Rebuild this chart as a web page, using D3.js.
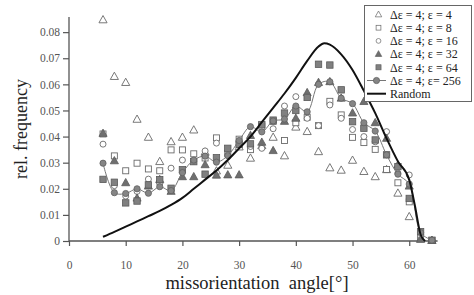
<!DOCTYPE html>
<html><head><meta charset="utf-8">
<script src="https://cdn.jsdelivr.net/npm/d3@7"></script>
<style>html,body{margin:0;padding:0;background:#fff}svg{display:block}</style>
</head><body>
<script>
const angles = [6,8,10,12,14,16,18,20,22,24,26,28,30,32,34,36,38,40,42,44,46,48,50,52,54,56,58,60,62,64];
const eps4   = [0.0847,0.063,0.0607,0.0466,0.0397,0.0304,0.038,0.0397,0.0425,0.034,0.0268,0.029,0.036,0.0317,0.0365,0.0397,0.0326,0.0436,0.0419,0.0342,0.028,0.0271,0.0309,0.0266,0.0246,0.0273,0.0183,0.0093,0.0008,0.0002];
const eps8   = [0.041,0.0326,0.0269,0.0298,0.0276,0.0269,0.0349,0.0349,0.0334,0.0318,0.0395,0.0336,0.039,0.035,0.044,0.0458,0.0385,0.0453,0.0474,0.0442,0.0535,0.0483,0.0397,0.0377,0.0351,0.0274,0.0223,0.015,0.0012,0.0002];
const eps16  = [0.0371,0.0212,0.0172,0.019,0.0237,0.022,0.0279,0.031,0.0305,0.0345,0.0375,0.033,0.0368,0.0362,0.0355,0.043,0.0517,0.0553,0.047,0.0442,0.0521,0.047,0.0427,0.040,0.038,0.0419,0.026,0.0253,0.002,0.0002];
const eps32  = [0.0412,0.0307,0.0223,0.0164,0.021,0.0235,0.019,0.0246,0.0246,0.0292,0.0252,0.0253,0.0253,0.0404,0.0378,0.0346,0.0458,0.047,0.0568,0.0607,0.061,0.0547,0.049,0.0534,0.0453,0.0393,0.0291,0.021,0.0006,0.0002];
const eps64  = [0.0236,0.0225,0.0146,0.0153,0.0215,0.0235,0.0202,0.0273,0.0304,0.0256,0.0319,0.0355,0.037,0.0372,0.0446,0.0463,0.049,0.050,0.055,0.0677,0.0674,0.0579,0.0457,0.0432,0.0387,0.033,0.0285,0.0163,0.0036,0.0003];
const eps256 = [0.0298,0.0185,0.0182,0.020,0.0183,0.0208,0.0193,0.0262,0.031,0.0325,0.0302,0.0327,0.0385,0.0438,0.0418,0.046,0.0467,0.0517,0.0495,0.060,0.061,0.0547,0.0526,0.0453,0.0421,0.033,0.0256,0.0218,0.0032,0.0003];
const randomAngles = [6,8,10,12,14,16,18,20,22,24,26,28,30,32,34,36,38,40,42,44,45,46,48,50,52,54,56,58,60,61,62,62.8];
const randomValues = [0.0016,0.0035,0.0055,0.0075,0.0095,0.0115,0.0138,0.0165,0.020,0.0235,0.027,0.031,0.0355,0.040,0.0455,0.051,0.0565,0.0625,0.069,0.0745,0.0757,0.0752,0.0715,0.0655,0.0575,0.049,0.0393,0.0305,0.0234,0.0135,0.0025,0];
const xTicks = [0,10,20,30,40,50,60];
const yTicks = [0,0.01,0.02,0.03,0.04,0.05,0.06,0.07,0.08];
const legendLabels = ["\u0394\u03b5 = 4; \u03b5 = 4","\u0394\u03b5 = 4; \u03b5 = 8","\u0394\u03b5 = 4; \u03b5 = 16","\u0394\u03b5 = 4; \u03b5 = 32","\u0394\u03b5 = 4; \u03b5 = 64","\u0394\u03b5 = 4; \u03b5= 256","Random"];

const W = 474, H = 295;
const FONT = "'Liberation Serif','Times New Roman',serif";
const svg = d3.select("body").append("svg").attr("width", W).attr("height", H);
const x = d3.scaleLinear().domain([0, 65]).range([69, 437.6]);
const y = d3.scaleLinear().domain([0, 0.0858]).range([241, 17]);

const axisCol = "#555";
const yAxis = svg.append("g").attr("transform", `translate(${x(0)},0)`)
  .call(d3.axisLeft(y).tickValues(yTicks).tickSize(6).tickPadding(3)
    .tickFormat(d => d === 0 ? "0" : d.toFixed(2)));
const xAxis = svg.append("g").attr("transform", `translate(0,${y(0)})`)
  .call(d3.axisBottom(x).tickValues(xTicks).tickSize(5).tickPadding(15));
[yAxis, xAxis].forEach(g => {
  g.select(".domain").attr("stroke", axisCol).attr("stroke-width", 1.3);
  g.selectAll(".tick line").attr("stroke", axisCol).attr("stroke-width", 1.2);
  g.selectAll(".tick text").attr("fill", "#555").attr("font-family", FONT).attr("font-size", 11.5);
});
yAxis.select(".domain").attr("d", `M0,${y(0.0858)}V${y(0)}`);
xAxis.select(".domain").attr("d", `M${x(0)},0H${x(65)}`);

svg.append("text").attr("transform", `translate(27,${(y(0)+y(0.0858))/2}) rotate(-90)`)
  .attr("text-anchor", "middle").attr("font-family", FONT).attr("font-size", 18).attr("fill", "#222")
  .text("rel. frequency");
svg.append("text").attr("x", 257).attr("y", 289).attr("text-anchor", "middle")
  .attr("font-family", FONT).attr("font-size", 18.5).attr("fill", "#222")
  .style("white-space","pre").text("missorientation  angle[\u00b0]");

const openStroke = "#6a6a6a", fillGrey = "#808080", fillStroke = "#5a5a5a";
const triPath = s => `M0,${-s*0.62}L${s*0.58},${s*0.42}L${-s*0.58},${s*0.42}Z`;
function drawMarker(g, type, cx, cy) {
  if (type === "otri") g.append("path").attr("d", triPath(7)).attr("transform", `translate(${cx},${cy})`)
    .attr("fill", "#fff").attr("stroke", openStroke).attr("stroke-width", 0.9);
  else if (type === "osq") g.append("rect").attr("x", cx-3).attr("y", cy-3).attr("width", 6).attr("height", 6)
    .attr("fill", "#fff").attr("stroke", openStroke).attr("stroke-width", 0.9);
  else if (type === "ocirc") g.append("circle").attr("cx", cx).attr("cy", cy).attr("r", 3)
    .attr("fill", "#fff").attr("stroke", openStroke).attr("stroke-width", 0.9);
  else if (type === "ftri") g.append("path").attr("d", triPath(7)).attr("transform", `translate(${cx},${cy})`)
    .attr("fill", "#6f6f6f").attr("stroke", fillStroke).attr("stroke-width", 0.8);
  else if (type === "fsq") g.append("rect").attr("x", cx-3.2).attr("y", cy-3.2).attr("width", 6.4).attr("height", 6.4)
    .attr("fill", fillGrey).attr("stroke", fillStroke).attr("stroke-width", 0.8);
  else if (type === "fcirc") g.append("circle").attr("cx", cx).attr("cy", cy).attr("r", 3.1)
    .attr("fill", "#858585").attr("stroke", "#5f5f5f").attr("stroke-width", 0.8);
}
const series = [
  {vals: eps4, type: "otri"},
  {vals: eps8, type: "osq"},
  {vals: eps16, type: "ocirc"},
  {vals: eps32, type: "ftri"},
  {vals: eps64, type: "fsq"}
];
const gm = svg.append("g");
series.forEach(s => s.vals.forEach((v, i) => drawMarker(gm, s.type, x(angles[i]), y(v))));

svg.append("path").datum(angles.map((a, i) => [a, eps256[i]]))
  .attr("fill", "none").attr("stroke", "#777").attr("stroke-width", 1)
  .attr("d", d3.line().x(d => x(d[0])).y(d => y(d[1])).curve(d3.curveCatmullRom.alpha(0.5)));
const g256 = svg.append("g");
eps256.forEach((v, i) => drawMarker(g256, "fcirc", x(angles[i]), y(v)));

svg.append("path").datum(randomAngles.map((a, i) => [a, randomValues[i]]))
  .attr("fill", "none").attr("stroke", "#111").attr("stroke-width", 2)
  .attr("d", d3.line().x(d => x(d[0])).y(d => y(d[1])).curve(d3.curveMonotoneX));

const lg = svg.append("g");
lg.append("rect").attr("x", 364.5).attr("y", 5.5).attr("width", 107).attr("height", 96)
  .attr("fill", "#fff").attr("stroke", "#666").attr("stroke-width", 1);
const legTypes = ["otri","osq","ocirc","ftri","fsq","fcirc","line"];
legendLabels.forEach((lab, i) => {
  const cy = 14.5 + i * 13.2;
  const t = legTypes[i];
  if (t === "fcirc") {
    lg.append("line").attr("x1", 367).attr("x2", 386).attr("y1", cy).attr("y2", cy).attr("stroke", "#777").attr("stroke-width", 1);
    drawMarker(lg, "fcirc", 376.5, cy);
  } else if (t === "line") {
    lg.append("line").attr("x1", 367).attr("x2", 386).attr("y1", cy).attr("y2", cy).attr("stroke", "#111").attr("stroke-width", 2);
  } else {
    const sm = lg.append("g").attr("transform", `translate(378.5,${cy}) scale(0.8)`);
    drawMarker(sm, t, 0, 0);
  }
  lg.append("text").attr("x", 390).attr("y", cy + 4.2).attr("font-family", FONT).attr("font-size", 12)
    .attr("fill", "#222").text(lab);
});
</script>
</body></html>
